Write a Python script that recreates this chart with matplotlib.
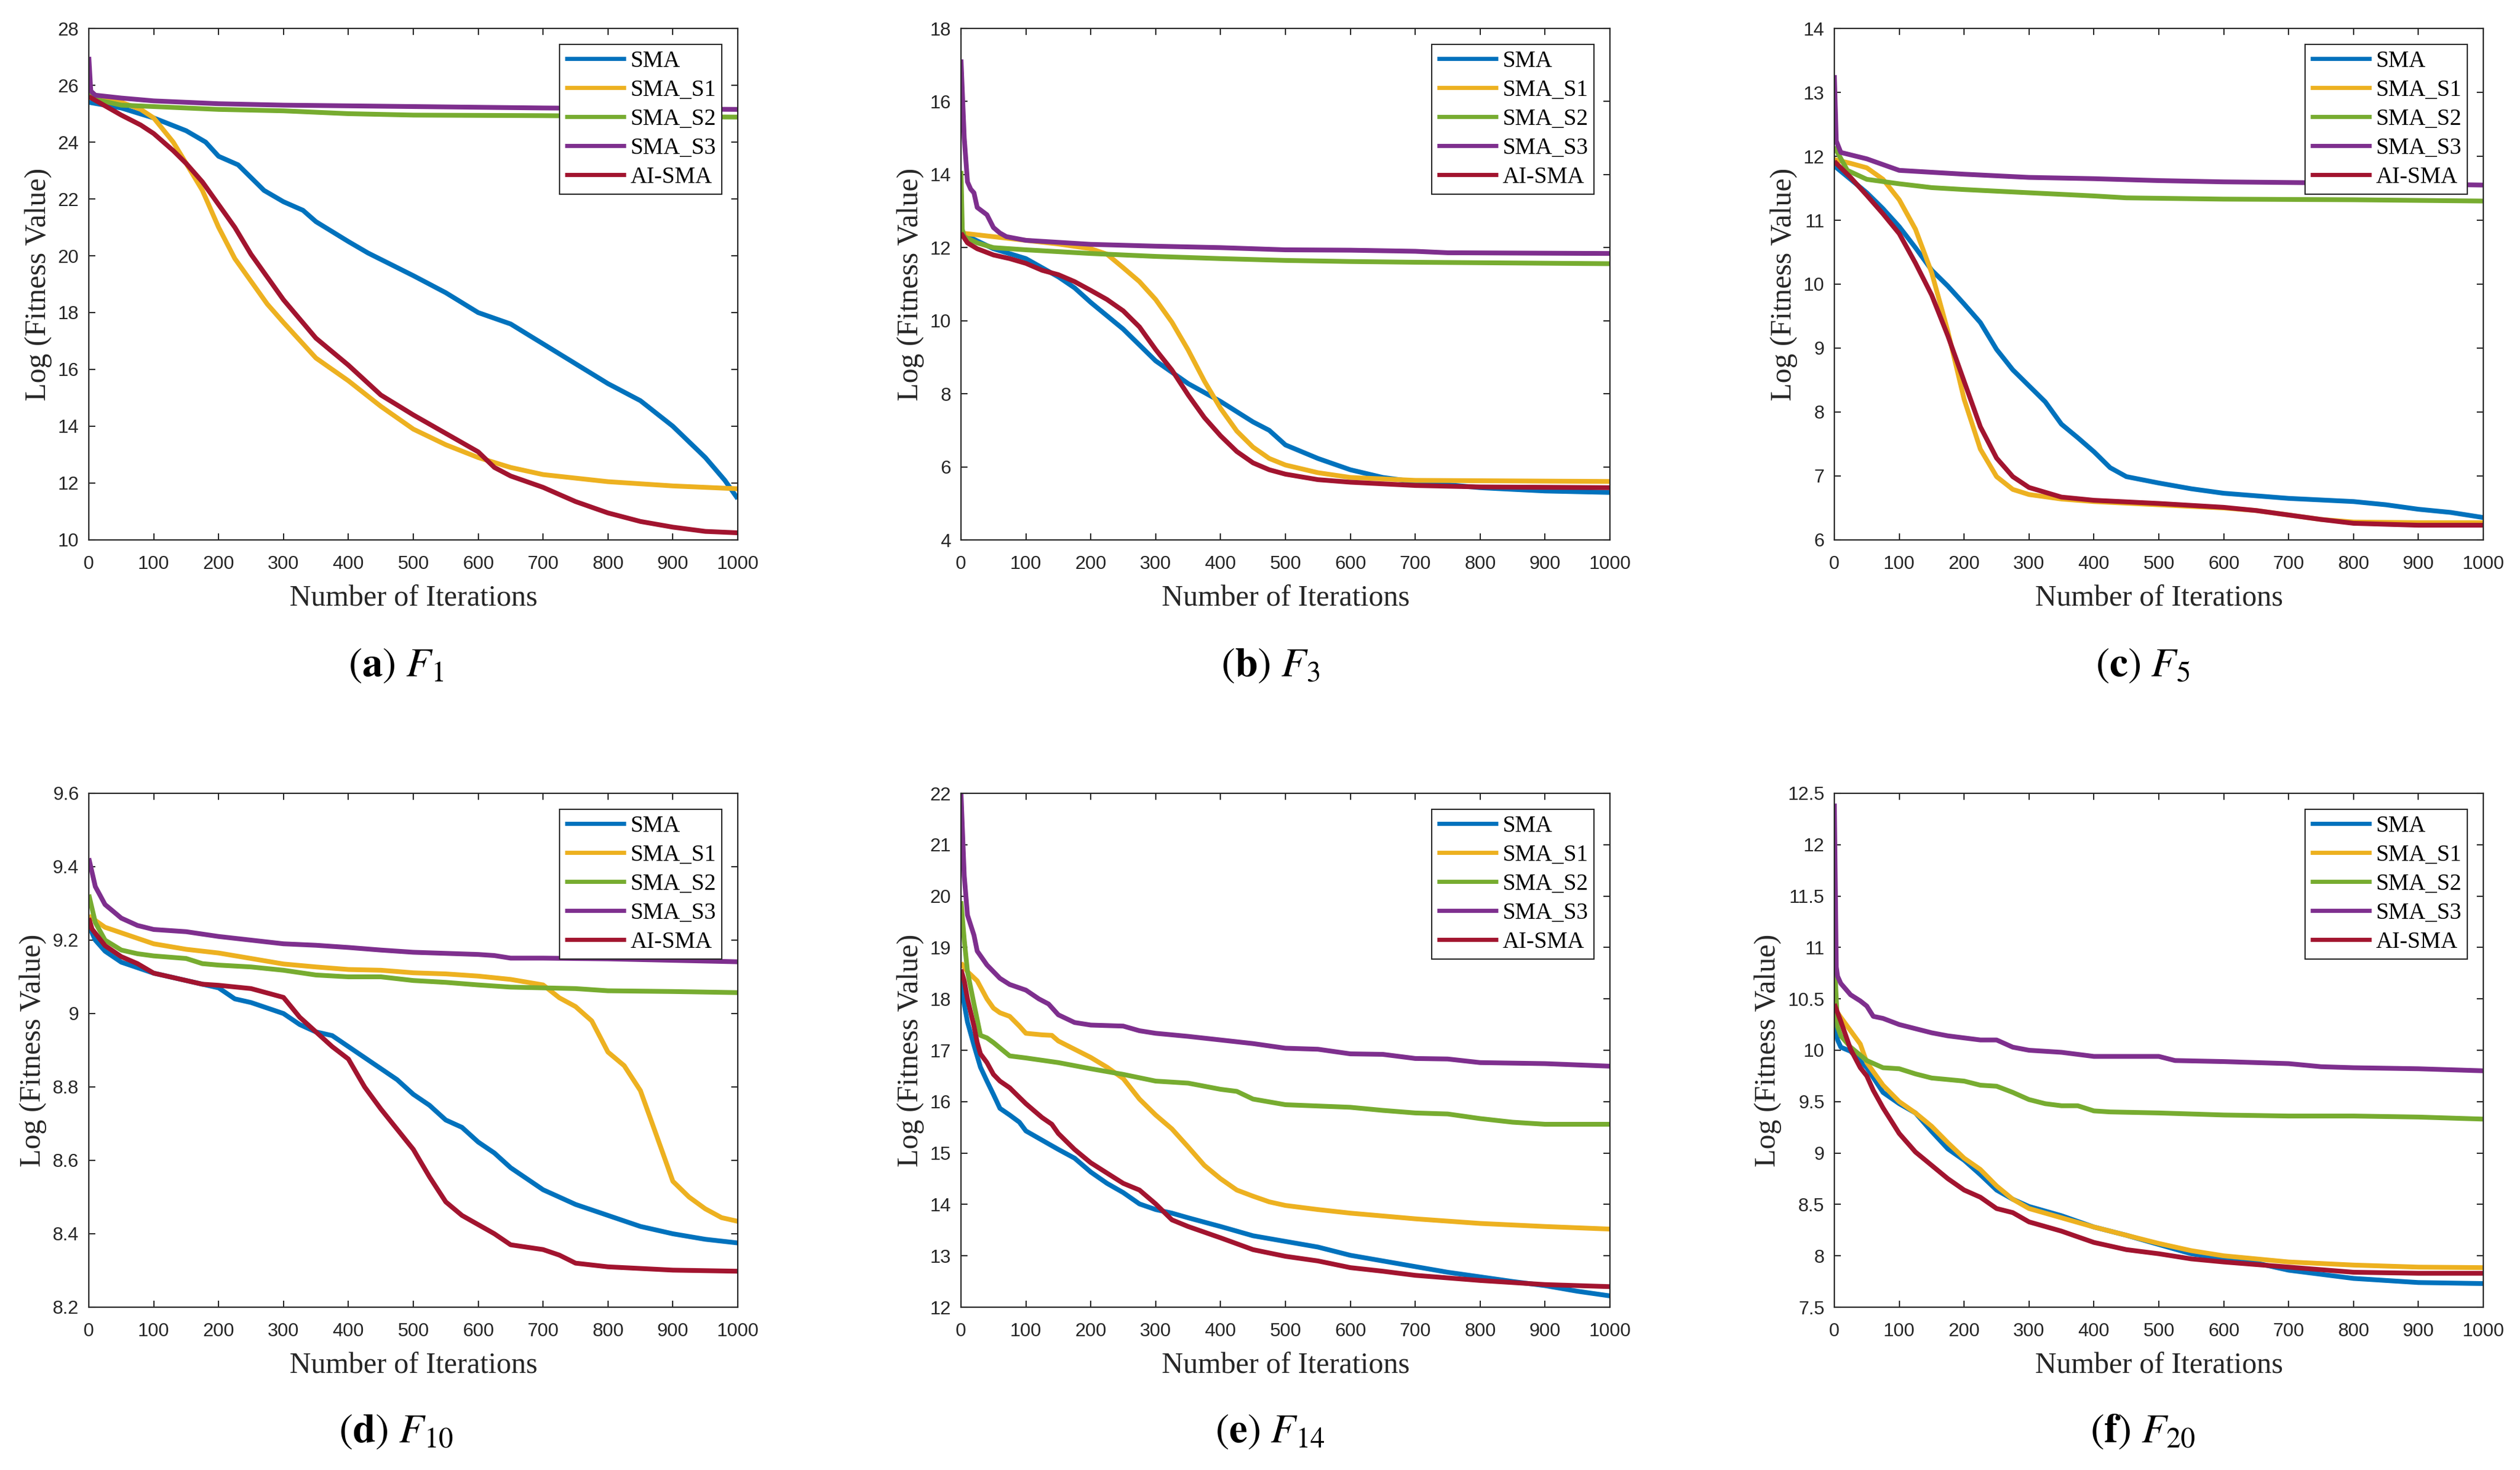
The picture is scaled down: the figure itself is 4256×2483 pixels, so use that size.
import matplotlib
matplotlib.use("Agg")
import matplotlib.pyplot as plt
from matplotlib.ticker import FuncFormatter, MultipleLocator

# ---------------- DATA ----------------
series_names = ["SMA", "SMA_S1", "SMA_S2", "SMA_S3", "AI-SMA"]
captions = ["a", "b", "c", "d", "e", "f"]
func_ids = ["1", "3", "5", "10", "14", "20"]
x_ticks = [0, 100, 200, 300, 400, 500, 600, 700, 800, 900, 1000]
y_limits = [(10, 28), (4, 18), (6, 14), (8.2, 9.6), (12, 22), (7.5, 12.5)]
y_steps = [2, 2, 1, 0.2, 1, 0.5]

# Panel (a) F1
a_sma_x = [0, 50, 100, 150, 180, 200, 230, 270, 300, 330, 350, 400, 430, 500, 550, 600, 650, 700, 750, 800, 850, 900, 950, 980, 1000]
a_sma_y = [25.4, 25.2, 24.85, 24.4, 24.0, 23.5, 23.2, 22.3, 21.9, 21.6, 21.2, 20.5, 20.1, 19.3, 18.7, 18.0, 17.6, 16.9, 16.2, 15.5, 14.9, 14.0, 12.9, 12.1, 11.45]
a_s1_x = [0, 50, 80, 100, 130, 150, 175, 200, 225, 250, 275, 300, 350, 400, 450, 500, 550, 600, 650, 700, 800, 900, 1000]
a_s1_y = [25.7, 25.4, 25.15, 24.85, 24.0, 23.25, 22.3, 21.0, 19.9, 19.1, 18.3, 17.65, 16.4, 15.6, 14.7, 13.9, 13.35, 12.9, 12.55, 12.3, 12.05, 11.9, 11.8]
a_s2_x = [0, 10, 50, 100, 200, 300, 400, 500, 700, 1000]
a_s2_y = [25.75, 25.5, 25.3, 25.25, 25.15, 25.1, 25.0, 24.95, 24.93, 24.88]
a_s3_x = [0, 3, 10, 50, 100, 200, 300, 500, 700, 1000]
a_s3_y = [27.0, 25.8, 25.65, 25.55, 25.45, 25.35, 25.3, 25.25, 25.2, 25.15]
a_ai_x = [0, 50, 80, 100, 130, 150, 175, 200, 225, 250, 275, 300, 350, 400, 450, 500, 550, 600, 625, 650, 700, 750, 800, 850, 900, 950, 1000]
a_ai_y = [25.6, 24.95, 24.6, 24.3, 23.7, 23.25, 22.6, 21.8, 21.0, 20.05, 19.25, 18.45, 17.1, 16.15, 15.1, 14.4, 13.75, 13.1, 12.55, 12.25, 11.85, 11.35, 10.95, 10.65, 10.45, 10.3, 10.25]

# Panel (b) F3
b_sma_x = [0, 50, 100, 150, 175, 200, 250, 300, 350, 400, 450, 475, 500, 550, 600, 650, 700, 800, 900, 1000]
b_sma_y = [12.4, 11.97, 11.7, 11.2, 10.9, 10.5, 9.77, 8.9, 8.28, 7.79, 7.23, 7.0, 6.6, 6.23, 5.92, 5.71, 5.59, 5.43, 5.34, 5.3]
b_s1_x = [0, 50, 100, 150, 200, 225, 250, 275, 300, 325, 350, 375, 400, 425, 450, 475, 500, 550, 600, 700, 1000]
b_s1_y = [12.4, 12.3, 12.2, 12.1, 11.97, 11.82, 11.45, 11.07, 10.58, 9.96, 9.2, 8.35, 7.6, 6.98, 6.54, 6.23, 6.05, 5.84, 5.71, 5.63, 5.6]
b_s2_x = [0, 2, 5, 25, 50, 100, 200, 300, 400, 500, 600, 700, 1000]
b_s2_y = [14.1, 12.5, 12.3, 12.13, 12.0, 11.94, 11.84, 11.76, 11.7, 11.65, 11.62, 11.6, 11.56]
b_s3_x = [0, 5, 10, 15, 20, 25, 40, 50, 60, 70, 100, 200, 300, 400, 500, 600, 700, 750, 1000]
b_s3_y = [17.15, 15.0, 13.8, 13.6, 13.5, 13.1, 12.9, 12.55, 12.4, 12.3, 12.2, 12.09, 12.04, 12.0, 11.94, 11.93, 11.9, 11.86, 11.84]
b_ai_x = [0, 10, 25, 50, 75, 100, 125, 150, 175, 200, 225, 250, 275, 300, 325, 350, 375, 400, 425, 450, 475, 500, 550, 600, 700, 800, 1000]
b_ai_y = [12.4, 12.13, 11.97, 11.8, 11.7, 11.57, 11.38, 11.26, 11.07, 10.83, 10.58, 10.27, 9.83, 9.21, 8.65, 7.97, 7.35, 6.85, 6.42, 6.11, 5.92, 5.8, 5.65, 5.58, 5.49, 5.45, 5.43]

# Panel (c) F5
c_sma_x = [0, 25, 50, 75, 100, 125, 150, 175, 200, 225, 250, 275, 300, 325, 350, 375, 400, 425, 450, 500, 550, 600, 650, 700, 800, 850, 900, 950, 1000]
c_sma_y = [11.85, 11.64, 11.43, 11.18, 10.9, 10.57, 10.22, 9.97, 9.69, 9.4, 8.98, 8.66, 8.41, 8.16, 7.81, 7.6, 7.38, 7.13, 6.99, 6.89, 6.8, 6.73, 6.69, 6.65, 6.6, 6.55, 6.48, 6.43, 6.35]
c_s1_x = [0, 25, 50, 75, 100, 125, 150, 175, 200, 225, 250, 275, 300, 350, 400, 500, 600, 650, 700, 750, 800, 900, 1000]
c_s1_y = [11.95, 11.89, 11.82, 11.64, 11.32, 10.86, 10.18, 9.26, 8.2, 7.42, 6.99, 6.79, 6.71, 6.64, 6.6, 6.55, 6.5, 6.46, 6.39, 6.32, 6.28, 6.27, 6.27]
c_s2_x = [0, 20, 50, 100, 150, 200, 300, 400, 450, 600, 800, 1000]
c_s2_y = [12.15, 11.78, 11.64, 11.57, 11.51, 11.48, 11.43, 11.38, 11.35, 11.33, 11.32, 11.3]
c_s3_x = [0, 3, 10, 50, 75, 100, 200, 300, 400, 500, 600, 800, 1000]
c_s3_y = [13.27, 12.24, 12.06, 11.96, 11.87, 11.78, 11.72, 11.67, 11.65, 11.62, 11.6, 11.58, 11.55]
c_ai_x = [0, 25, 50, 75, 100, 125, 150, 175, 200, 225, 250, 275, 300, 350, 400, 500, 600, 650, 700, 750, 800, 900, 1000]
c_ai_y = [11.92, 11.67, 11.39, 11.1, 10.79, 10.33, 9.83, 9.19, 8.48, 7.77, 7.28, 6.99, 6.82, 6.67, 6.62, 6.57, 6.51, 6.46, 6.39, 6.32, 6.26, 6.23, 6.23]

# Panel (d) F10
d_sma_x = [0, 10, 25, 50, 100, 150, 175, 200, 225, 250, 300, 325, 350, 375, 400, 425, 450, 475, 500, 525, 550, 575, 600, 625, 650, 675, 700, 750, 800, 850, 900, 950, 1000]
d_sma_y = [9.24, 9.2, 9.17, 9.14, 9.11, 9.09, 9.08, 9.07, 9.04, 9.03, 9.0, 8.97, 8.95, 8.94, 8.91, 8.88, 8.85, 8.82, 8.78, 8.75, 8.71, 8.69, 8.65, 8.62, 8.58, 8.55, 8.52, 8.48, 8.45, 8.42, 8.4, 8.385, 8.375]
d_s1_x = [0, 25, 50, 100, 150, 200, 250, 300, 350, 400, 450, 500, 550, 600, 650, 700, 725, 750, 775, 800, 825, 850, 875, 900, 925, 950, 975, 1000]
d_s1_y = [9.266, 9.235, 9.22, 9.19, 9.175, 9.165, 9.15, 9.135, 9.127, 9.12, 9.118, 9.111, 9.108, 9.102, 9.093, 9.078, 9.043, 9.019, 8.98, 8.895, 8.858, 8.79, 8.667, 8.543, 8.5, 8.468, 8.444, 8.434]
d_s2_x = [0, 10, 25, 50, 75, 100, 150, 175, 200, 250, 300, 350, 400, 450, 500, 550, 600, 650, 700, 750, 800, 900, 1000]
d_s2_y = [9.324, 9.248, 9.2, 9.173, 9.163, 9.157, 9.15, 9.136, 9.132, 9.127, 9.118, 9.105, 9.1, 9.1, 9.09, 9.085, 9.078, 9.072, 9.07, 9.068, 9.062, 9.06, 9.057]
d_s3_x = [0, 10, 25, 50, 75, 100, 150, 200, 250, 300, 350, 400, 450, 500, 600, 625, 650, 700, 800, 900, 1000]
d_s3_y = [9.423, 9.346, 9.297, 9.26, 9.24, 9.229, 9.223, 9.21, 9.2, 9.19, 9.186, 9.18, 9.173, 9.167, 9.161, 9.158, 9.151, 9.151, 9.149, 9.145, 9.141]
d_ai_x = [0, 5, 25, 50, 75, 100, 150, 175, 200, 250, 275, 300, 325, 350, 375, 400, 425, 450, 475, 500, 525, 550, 575, 600, 625, 650, 700, 725, 750, 800, 900, 1000]
d_ai_y = [9.26, 9.23, 9.185, 9.155, 9.136, 9.11, 9.09, 9.08, 9.077, 9.068, 9.056, 9.044, 8.99, 8.95, 8.91, 8.876, 8.8, 8.74, 8.685, 8.63, 8.555, 8.487, 8.45, 8.425, 8.4, 8.37, 8.357, 8.342, 8.32, 8.31, 8.301, 8.298]

# Panel (e) F14
e_sma_x = [0, 5, 10, 20, 30, 40, 50, 60, 75, 90, 100, 125, 150, 175, 200, 225, 250, 275, 300, 325, 350, 400, 450, 500, 550, 600, 650, 700, 750, 800, 850, 900, 950, 1000]
e_sma_y = [18.35, 17.9, 17.55, 17.1, 16.67, 16.4, 16.14, 15.87, 15.74, 15.6, 15.43, 15.25, 15.07, 14.9, 14.63, 14.41, 14.23, 14.01, 13.9, 13.83, 13.74, 13.57, 13.39, 13.28, 13.17, 13.01, 12.9, 12.79, 12.68, 12.59, 12.5, 12.42, 12.31, 12.22]
e_s1_x = [0, 10, 25, 40, 50, 60, 75, 90, 100, 125, 140, 150, 175, 200, 225, 250, 275, 300, 325, 350, 375, 400, 425, 450, 475, 500, 550, 600, 700, 800, 900, 1000]
e_s1_y = [18.7, 18.53, 18.35, 18.0, 17.82, 17.73, 17.66, 17.47, 17.33, 17.3, 17.29, 17.18, 17.02, 16.86, 16.67, 16.45, 16.05, 15.74, 15.47, 15.12, 14.76, 14.5, 14.28, 14.16, 14.05, 13.98, 13.9, 13.83, 13.72, 13.63, 13.57, 13.52]
e_s2_x = [0, 5, 10, 20, 30, 40, 50, 75, 100, 150, 200, 250, 300, 350, 400, 425, 450, 500, 600, 650, 700, 750, 800, 850, 900, 1000]
e_s2_y = [19.9, 19.15, 18.53, 17.9, 17.29, 17.24, 17.15, 16.89, 16.85, 16.76, 16.64, 16.53, 16.4, 16.36, 16.24, 16.2, 16.05, 15.94, 15.89, 15.83, 15.78, 15.76, 15.67, 15.6, 15.56, 15.56]
e_s3_x = [0, 5, 10, 20, 25, 40, 50, 60, 75, 100, 120, 135, 150, 175, 200, 250, 275, 300, 350, 400, 450, 500, 550, 600, 650, 700, 750, 800, 900, 1000]
e_s3_y = [22.0, 20.39, 19.63, 19.24, 18.93, 18.66, 18.53, 18.4, 18.28, 18.17, 18.0, 17.9, 17.69, 17.54, 17.49, 17.47, 17.38, 17.33, 17.27, 17.2, 17.13, 17.04, 17.02, 16.93, 16.92, 16.84, 16.83, 16.76, 16.74, 16.69]
e_ai_x = [0, 5, 10, 20, 25, 30, 40, 50, 60, 75, 100, 125, 140, 150, 175, 200, 250, 275, 300, 325, 350, 400, 450, 500, 550, 600, 650, 700, 800, 900, 1000]
e_ai_y = [18.57, 18.35, 18.0, 17.47, 17.15, 16.93, 16.76, 16.53, 16.4, 16.27, 15.96, 15.69, 15.56, 15.38, 15.07, 14.81, 14.41, 14.28, 14.01, 13.7, 13.57, 13.35, 13.12, 12.99, 12.9, 12.77, 12.7, 12.62, 12.52, 12.44, 12.4]

# Panel (f) F20
f_sma_x = [0, 5, 10, 25, 50, 75, 100, 125, 150, 175, 200, 225, 250, 275, 300, 350, 400, 450, 500, 550, 600, 650, 700, 750, 800, 850, 900, 1000]
f_sma_y = [10.3, 10.1, 10.03, 9.99, 9.83, 9.59, 9.48, 9.39, 9.21, 9.04, 8.93, 8.79, 8.64, 8.55, 8.48, 8.39, 8.28, 8.2, 8.11, 8.02, 7.97, 7.93, 7.86, 7.82, 7.78, 7.76, 7.74, 7.73]
f_s1_x = [0, 10, 25, 40, 50, 75, 100, 125, 150, 175, 200, 225, 250, 275, 300, 350, 400, 450, 500, 550, 600, 700, 800, 900, 1000]
f_s1_y = [10.41, 10.32, 10.19, 10.06, 9.88, 9.66, 9.5, 9.39, 9.26, 9.1, 8.95, 8.84, 8.68, 8.55, 8.46, 8.37, 8.28, 8.2, 8.12, 8.05, 8.0, 7.94, 7.91, 7.89, 7.885]
f_s2_x = [0, 5, 10, 25, 50, 75, 100, 125, 150, 200, 225, 250, 275, 300, 325, 350, 375, 400, 425, 500, 600, 700, 800, 900, 1000]
f_s2_y = [10.9, 10.23, 10.14, 10.03, 9.9, 9.83, 9.82, 9.77, 9.73, 9.7, 9.66, 9.65, 9.59, 9.52, 9.48, 9.46, 9.46, 9.41, 9.4, 9.39, 9.37, 9.36, 9.36, 9.35, 9.33]
f_s3_x = [0, 3, 5, 10, 25, 40, 50, 60, 75, 100, 125, 150, 175, 200, 225, 250, 275, 300, 350, 400, 500, 525, 600, 700, 750, 800, 900, 1000]
f_s3_y = [12.4, 10.81, 10.72, 10.65, 10.54, 10.48, 10.43, 10.33, 10.31, 10.25, 10.21, 10.17, 10.14, 10.12, 10.1, 10.1, 10.03, 10.0, 9.98, 9.94, 9.94, 9.9, 9.89, 9.87, 9.84, 9.83, 9.82, 9.8]
f_ai_x = [0, 10, 25, 40, 50, 60, 75, 100, 125, 150, 175, 200, 225, 250, 275, 300, 350, 400, 450, 500, 550, 600, 700, 800, 900, 1000]
f_ai_y = [10.45, 10.28, 10.01, 9.83, 9.75, 9.61, 9.44, 9.19, 9.01, 8.88, 8.75, 8.64, 8.57, 8.46, 8.42, 8.33, 8.24, 8.13, 8.06, 8.02, 7.97, 7.94, 7.89, 7.84, 7.83, 7.83]

panels = [
    [(a_sma_x, a_sma_y), (a_s1_x, a_s1_y), (a_s2_x, a_s2_y), (a_s3_x, a_s3_y), (a_ai_x, a_ai_y)],
    [(b_sma_x, b_sma_y), (b_s1_x, b_s1_y), (b_s2_x, b_s2_y), (b_s3_x, b_s3_y), (b_ai_x, b_ai_y)],
    [(c_sma_x, c_sma_y), (c_s1_x, c_s1_y), (c_s2_x, c_s2_y), (c_s3_x, c_s3_y), (c_ai_x, c_ai_y)],
    [(d_sma_x, d_sma_y), (d_s1_x, d_s1_y), (d_s2_x, d_s2_y), (d_s3_x, d_s3_y), (d_ai_x, d_ai_y)],
    [(e_sma_x, e_sma_y), (e_s1_x, e_s1_y), (e_s2_x, e_s2_y), (e_s3_x, e_s3_y), (e_ai_x, e_ai_y)],
    [(f_sma_x, f_sma_y), (f_s1_x, f_s1_y), (f_s2_x, f_s2_y), (f_s3_x, f_s3_y), (f_ai_x, f_ai_y)],
]

# ---------------- STYLE ----------------
colors = ["#0072BD", "#EDB120", "#77AC30", "#7E2F8E", "#A2142F"]
plt.rcParams['mathtext.fontset'] = 'stix'
W, H, DPI = 4256, 2483, 200
fig = plt.figure(figsize=(W / DPI, H / DPI), dpi=DPI)
fig.patch.set_facecolor("white")

ax_lefts = [150, 1623, 3098]
ax_width = 1096
row_tops = [48, 1340]
row_height = [864, 868]
cap_x = [669, 2145, 3619]
cap_y = [1122, 2416]

gray = "#262626"
for i in range(6):
    r, c = divmod(i, 3)
    left = ax_lefts[c] / W
    bottom = 1 - (row_tops[r] + row_height[r]) / H
    ax = fig.add_axes([left, bottom, ax_width / W, row_height[r] / H])
    for k, (xs, ys) in enumerate(panels[i]):
        ax.plot(xs, ys, color=colors[k], lw=2.9, label=series_names[k],
                solid_joinstyle='round', solid_capstyle='butt')
    ax.set_xlim(0, 1000)
    ax.set_ylim(*y_limits[i])
    ax.set_xticks(x_ticks)
    ax.yaxis.set_major_locator(MultipleLocator(y_steps[i]))
    ax.yaxis.set_major_formatter(FuncFormatter(lambda v, p: "%g" % round(v, 4)))
    ax.tick_params(direction='in', length=4, width=0.75, top=True, right=True,
                   labelsize=11.5, colors=gray, pad=9.5)
    ax.tick_params(axis='y', pad=6)
    for lab in ax.get_xticklabels() + ax.get_yticklabels():
        lab.set_fontfamily("Liberation Sans")
    for sp in ax.spines.values():
        sp.set_linewidth(0.8)
        sp.set_color(gray)
    ax.set_xlabel("Number of Iterations", fontfamily="Liberation Serif",
                  fontsize=18, color=gray, labelpad=7)
    ax.set_ylabel("Log (Fitness Value)", fontfamily="Liberation Serif",
                  fontsize=18, color=gray, labelpad=3.5)
    leg = ax.legend(loc='upper right', bbox_to_anchor=(0.9754, 0.9688),
                    borderaxespad=0, frameon=True, fancybox=False,
                    prop={'family': 'Liberation Serif', 'size': 14},
                    handlelength=2.65, handletextpad=0.18, labelspacing=0.31,
                    borderpad=0.25)
    fr = leg.get_frame()
    fr.set_edgecolor(gray)
    fr.set_linewidth(0.75)
    fr.set_alpha(1)
    for line in leg.get_lines():
        line.set_linewidth(2.5)
    fig.text(cap_x[c] / W, 1 - cap_y[r] / H,
             r"$(\mathbf{%s})\ F_{%s}$" % (captions[i], func_ids[i]),
             ha='center', va='center', fontsize=25, color='black')

fig.savefig("out.png", dpi=DPI, facecolor="white")
